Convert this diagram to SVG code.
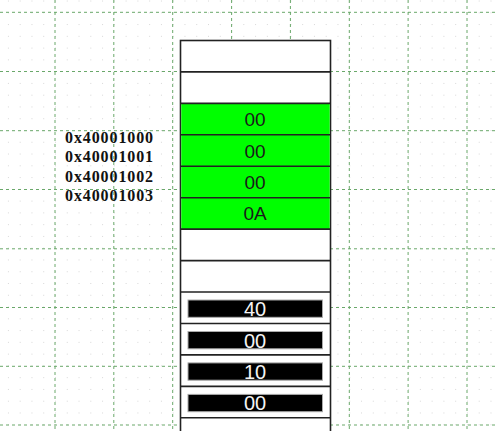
<svg xmlns="http://www.w3.org/2000/svg" width="498" height="431" viewBox="0 0 498 431">
<style>
.major{stroke:#6aa86a;stroke-width:1;stroke-dasharray:3 3;fill:none}
.sep{stroke:#222;stroke-width:1.6}
.cellg{fill:#00ff00}
.cellw{fill:#ffffff}
.val{font-family:"Liberation Sans",Arial,sans-serif;font-size:19px;text-anchor:middle;fill:#1a1a1a}
.inv{font-family:"Liberation Sans",Arial,sans-serif;font-size:20px;text-anchor:middle;fill:#f4f4f4}
.bar{fill:#000;stroke:#aaa;stroke-width:1}
.addr{font-family:"Liberation Serif","Times New Roman",serif;font-weight:bold;font-size:16px;letter-spacing:0.9px;fill:#111}
</style>
<defs>
<pattern id="dots" patternUnits="userSpaceOnUse" x="55" y="12.3" width="11.77" height="11.77">
<rect x="-0.5" y="-0.5" width="1.2" height="1.2" fill="#b0b0b0"/>
</pattern>
</defs>
<rect width="498" height="431" fill="#fff"/>
<rect width="498" height="431" fill="url(#dots)"/>
<g id="grid">
<path class="major" d="M55 0V431M113.8 0V431M172.7 0V431M231.6 0V431M290.4 0V431M349.3 0V431M408.1 0V431M467 0V431"/>
<path class="major" d="M0 12.3H498M0 71.5H498M0 130.7H498M0 189.5H498M0 248.8H498M0 307.5H498M0 366.3H498M0 425H498"/>
</g>
<g id="memory">
<rect x="180.5" y="40.5" width="150" height="395" fill="#fff" stroke="#222" stroke-width="1.6"/>
<rect class="cellg" x="181.3" y="103.4" width="148.4" height="125.7"/>
<g id="cells">
<line class="sep" x1="180.5" y1="71.9" x2="330.5" y2="71.9"/>
<line class="sep" x1="180.5" y1="103.4" x2="330.5" y2="103.4"/>
<line class="sep" x1="180.5" y1="134.8" x2="330.5" y2="134.8"/>
<line class="sep" x1="180.5" y1="166.3" x2="330.5" y2="166.3"/>
<line class="sep" x1="180.5" y1="197.7" x2="330.5" y2="197.7"/>
<line class="sep" x1="180.5" y1="229.1" x2="330.5" y2="229.1" stroke="#222"/>
<line class="sep" x1="180.5" y1="260.6" x2="330.5" y2="260.6"/>
<line class="sep" x1="180.5" y1="292" x2="330.5" y2="292"/>
<line class="sep" x1="180.5" y1="323.5" x2="330.5" y2="323.5"/>
<line class="sep" x1="180.5" y1="354.9" x2="330.5" y2="354.9"/>
<line class="sep" x1="180.5" y1="386.4" x2="330.5" y2="386.4"/>
<line class="sep" x1="180.5" y1="417.8" x2="330.5" y2="417.8"/>
</g>
<g id="g1"><text class="val" x="255" y="126.2">00</text></g>
<g id="g2"><text class="val" x="255" y="157.6">00</text></g>
<g id="g3"><text class="val" x="255" y="189">00</text></g>
<g id="g4"><text class="val" x="255" y="220.4">0A</text></g>
<g id="b1"><rect class="bar" x="188" y="300" width="134.5" height="17.3"/><text class="inv" x="255" y="316">40</text></g>
<g id="b2"><rect class="bar" x="188" y="331.5" width="134.5" height="17.3"/><text class="inv" x="255" y="347.5">00</text></g>
<g id="b3"><rect class="bar" x="188" y="362.9" width="134.5" height="17.3"/><text class="inv" x="255" y="378.9">10</text></g>
<g id="b4"><rect class="bar" x="188" y="394.4" width="134.5" height="17.3"/><text class="inv" x="255" y="410.4">00</text></g>
</g>
<g id="labels">
<text class="addr" x="65" y="142.7">0x40001000</text>
<text class="addr" x="65" y="162.3">0x40001001</text>
<text class="addr" x="65" y="182">0x40001002</text>
<text class="addr" x="65" y="201.3">0x40001003</text>
</g>
</svg>
